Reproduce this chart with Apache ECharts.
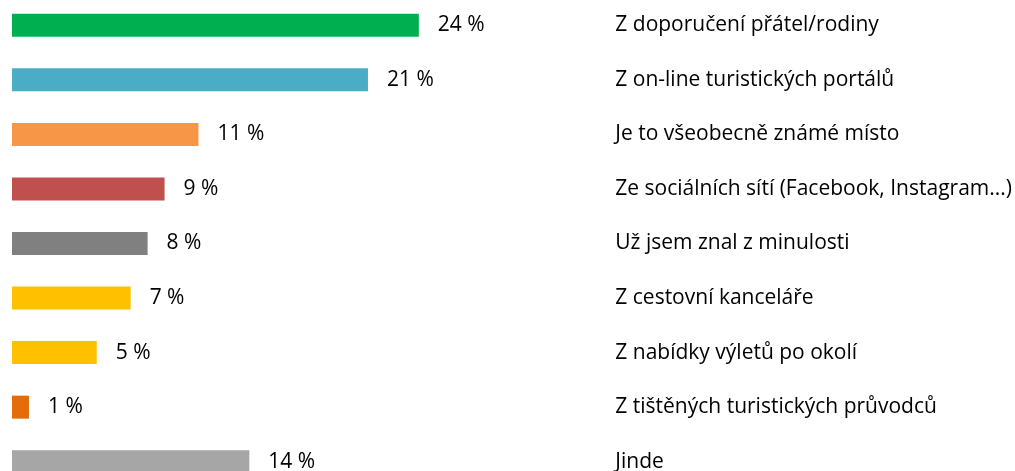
<!DOCTYPE html>
<html>
<head>
<meta charset="utf-8">
<script src="https://cdn.jsdelivr.net/npm/echarts@6/dist/echarts.min.js"></script>
<style>
  html, body { margin: 0; padding: 0; background: #ffffff; overflow: hidden; }
  /* the last row runs past the bottom edge, so the canvas is taller than the window */
  #chart { width: 1015px; height: 500px; margin-top: -2px; }
</style>
</head>
<body>
<div id="chart"></div>
<script>
// Where respondents learned about the destination (share of answers, %)
const categories = [
  'Z doporučení přátel/rodiny',
  'Z on-line turistických portálů',
  'Je to všeobecně známé místo',
  'Ze sociálních sítí (Facebook, Instagram...)',
  'Už jsem znal z minulosti',
  'Z cestovní kanceláře',
  'Z nabídky výletů po okolí',
  'Z tištěných turistických průvodců',
  'Jinde'
];
const values = [24, 21, 11, 9, 8, 7, 5, 1, 14];
const barColors = ['#00B050', '#4BACC6', '#F79646', '#C0504D', '#808080', '#FFC000', '#FFC000', '#E46C0A', '#A6A6A6'];

const FONT = '"Open Sans", "Noto Sans", sans-serif';

const chart = echarts.init(document.getElementById('chart'), null, { renderer: 'canvas' });
chart.setOption({
  animation: false,
  backgroundColor: '#ffffff',
  grid: { left: 12, top: 0, width: 595, height: 491, containLabel: false },
  xAxis: {
    type: 'value',
    min: 0,
    max: 35,
    show: false
  },
  yAxis: {
    type: 'category',
    data: categories,
    inverse: true,
    position: 'right',
    axisLine: { show: false },
    axisTick: { show: false },
    splitLine: { show: false },
    axisLabel: {
      align: 'left',
      margin: 10,
      color: '#000000',
      fontFamily: FONT,
      fontSize: 21
    }
  },
  series: [{
    type: 'bar',
    barWidth: 23,
    data: values.map((v, i) => ({ value: v, itemStyle: { color: barColors[i] } })),
    label: {
      show: true,
      position: 'right',
      distance: 19,
      formatter: p => p.value + ' %',
      color: '#000000',
      fontFamily: FONT,
      fontSize: 21
    }
  }]
});
</script>
</body>
</html>
